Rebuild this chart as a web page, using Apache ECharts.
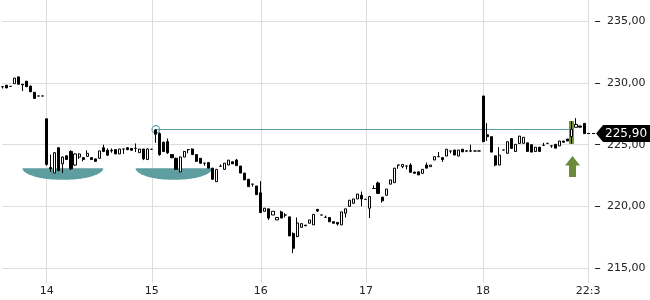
<!DOCTYPE html>
<html>
<head>
<meta charset="utf-8">
<script src="https://cdn.jsdelivr.net/npm/echarts@6/dist/echarts.min.js"></script>
<style>
  html, body { margin: 0; padding: 0; background: #fff; }
  #chart { width: 650px; height: 300px; }
</style>
</head>
<body>
<div id="chart"></div>
<script>
// Candles: [open, close, low, high]
const day13 = [
  [229.70, 229.70, 229.55, 229.72], [229.82, 229.60, 229.60, 229.82], [229.73, 229.73, 229.73, 229.73],
  [229.95, 230.40, 229.95, 230.40], [230.50, 229.90, 229.90, 230.50], [229.90, 229.85, 229.35, 229.90],
  [230.15, 229.70, 229.70, 230.15], [229.75, 229.30, 229.25, 229.80], [229.25, 228.75, 228.75, 229.25],
  [228.95, 228.95, 228.95, 228.95], [228.95, 228.95, 228.95, 228.95]
];
const day14 = [
  [227.10, 223.40, 223.30, 227.10], [223.15, 223.05, 222.80, 224.20], [222.70, 224.35, 222.70, 224.40],
  [224.75, 222.90, 222.85, 224.80], [223.45, 224.00, 222.70, 224.05], [224.10, 223.80, 223.75, 224.15],
  [224.45, 223.05, 222.95, 224.55], [223.35, 224.25, 223.30, 224.30], [224.00, 224.25, 223.85, 224.30],
  [223.95, 223.80, 223.65, 224.00], [224.05, 224.30, 224.05, 224.55], [223.95, 223.80, 223.80, 223.95],
  [223.85, 223.65, 223.65, 223.85], [223.90, 224.50, 223.85, 224.50], [224.75, 224.45, 224.40, 225.00],
  [224.55, 224.15, 224.10, 224.70], [224.55, 224.50, 224.35, 224.70], [224.60, 224.25, 224.25, 224.60],
  [224.25, 224.65, 224.25, 224.65], [224.65, 224.65, 224.25, 224.65], [224.75, 224.60, 224.55, 224.80],
  [224.70, 224.55, 224.55, 224.70], [224.70, 224.70, 224.40, 225.10], [224.35, 224.65, 224.35, 224.65],
  [224.65, 223.85, 223.75, 224.65], [223.80, 224.65, 223.75, 224.70]
];
const day15 = [
  [224.63, 224.63, 224.63, 224.63], [226.20, 225.85, 225.15, 226.25], [225.90, 224.20, 224.10, 226.00],
  [225.20, 224.45, 224.40, 225.25], [225.25, 224.35, 224.25, 225.50], [224.20, 223.95, 223.90, 224.20],
  [223.90, 223.00, 222.95, 223.95], [222.80, 224.00, 222.75, 224.05], [224.00, 224.45, 224.00, 224.50],
  [224.60, 224.60, 224.30, 224.65], [224.65, 224.20, 224.20, 224.70], [224.20, 223.65, 223.60, 224.20],
  [223.90, 223.50, 223.45, 223.90], [223.50, 223.50, 223.30, 223.50], [223.55, 223.10, 223.10, 223.55],
  [223.10, 222.20, 222.15, 223.10], [222.00, 223.00, 222.00, 223.00], [223.25, 223.25, 223.25, 223.40],
  [223.00, 223.50, 223.00, 223.50], [223.35, 223.75, 223.35, 223.75], [223.62, 223.45, 223.45, 223.62],
  [223.75, 223.30, 223.30, 223.85], [223.27, 222.70, 222.70, 223.27], [222.70, 222.15, 222.15, 222.70],
  [222.20, 221.60, 221.60, 222.20], [221.80, 221.80, 221.60, 221.80], [221.65, 220.95, 220.95, 221.65]
];
const day16 = [
  [221.10, 219.50, 219.45, 222.05], [219.60, 219.85, 219.60, 219.85], [219.80, 219.05, 218.90, 219.80],
  [219.30, 219.60, 219.30, 219.60], [218.90, 219.10, 218.90, 219.10], [219.55, 219.05, 219.05, 219.65],
  [219.30, 219.30, 219.10, 219.45], [219.15, 217.60, 217.60, 219.15], [217.80, 216.60, 216.20, 217.90],
  [217.55, 218.65, 217.50, 219.10], [218.30, 218.60, 218.30, 218.60], [218.48, 218.42, 218.42, 218.48],
  [218.63, 218.90, 218.63, 218.90], [218.50, 219.35, 218.50, 219.35], [219.76, 219.62, 219.55, 219.76],
  [219.30, 219.30, 219.30, 219.30], [219.11, 219.11, 219.11, 219.25], [219.10, 218.75, 218.75, 219.10],
  [218.76, 218.63, 218.63, 218.76], [218.70, 218.57, 218.45, 218.70], [218.50, 219.55, 218.50, 219.55],
  [219.45, 219.80, 219.10, 219.80], [220.00, 220.50, 220.00, 220.50], [220.25, 220.60, 220.25, 220.60],
  [220.60, 221.00, 220.60, 221.00], [220.90, 220.60, 220.00, 221.20]
];
const day17 = [
  [220.57, 220.57, 220.57, 220.57], [219.85, 220.80, 219.05, 220.85], [221.45, 221.45, 221.45, 221.70],
  [221.90, 221.05, 221.05, 222.00], [220.75, 220.45, 220.30, 220.75], [220.90, 221.40, 220.90, 221.40],
  [221.80, 222.15, 221.80, 222.15], [221.92, 223.10, 221.92, 223.10], [223.35, 223.35, 223.05, 223.35],
  [223.22, 223.40, 223.10, 223.40], [223.27, 223.27, 223.00, 223.27], [223.35, 222.76, 222.76, 223.50],
  [222.78, 222.68, 222.68, 222.80], [222.80, 222.55, 222.55, 222.80], [222.68, 223.00, 222.68, 223.00],
  [223.35, 223.10, 223.10, 223.55], [223.22, 223.35, 223.22, 223.35], [223.76, 224.03, 223.76, 224.03],
  [224.03, 224.03, 224.03, 224.41], [223.95, 223.80, 223.60, 223.95], [224.08, 224.63, 224.08, 224.63],
  [224.49, 224.49, 224.30, 224.49], [224.57, 224.16, 224.16, 224.57], [224.08, 224.57, 224.08, 224.57],
  [224.63, 224.42, 224.42, 224.63], [224.50, 224.48, 224.40, 224.55], [224.50, 224.48, 224.40, 225.00],
  [224.49, 224.49, 224.49, 224.49], [224.49, 224.49, 224.49, 224.49]
];
const day18 = [
  [228.95, 225.25, 225.20, 228.95], [225.80, 225.65, 225.30, 226.75], [225.65, 224.40, 224.40, 225.65],
  [224.10, 223.35, 223.25, 224.10], [223.35, 224.15, 223.35, 224.80], [224.57, 224.57, 224.57, 224.57],
  [224.30, 225.24, 224.30, 225.24], [225.50, 224.70, 224.70, 225.50], [224.45, 225.03, 224.45, 225.03],
  [225.10, 225.70, 225.10, 225.70], [225.11, 225.60, 225.11, 225.60], [225.15, 224.45, 224.45, 225.15],
  [225.00, 224.40, 224.40, 225.00], [224.45, 224.80, 224.45, 224.80], [224.80, 224.45, 224.45, 224.80],
  [224.95, 224.95, 224.95, 225.15], [225.11, 225.11, 225.11, 225.11], [224.90, 224.90, 224.75, 224.95],
  [225.03, 224.72, 224.72, 225.03], [224.90, 225.30, 224.90, 225.30], [225.30, 225.20, 225.15, 225.30],
  [225.46, 225.30, 225.30, 225.46], [225.65, 226.25, 225.10, 226.90], [226.41, 226.65, 226.41, 227.15],
  [226.52, 226.42, 226.42, 226.52], [226.73, 225.90, 225.90, 226.73]
];

// Tick labels: label of the first candle of each day, plus the closing time label
const dayLabels = ['', '14', '15', '16', '17', '18'];
const endLabel = '22:30';

// Y axis range / ticks
const yMin = 210, yMax = 240, yStep = 5;

// Annotations (candle indices and price levels)
const saucers = [[5, 25, 223.1, 222.15], [33, 52, 223.1, 222.15]]; // [fromIdx, toIdx, topPrice, bottomPrice]
const resistance = [38, 141, 226.25];   // [fromIdx, toIdx, price]
const breakout = [141, 225.05, 226.95]; // [idx, lowPrice, highPrice]
const arrow = [141, 224.08, 222.38];    // [idx, tipPrice, tailPrice]

// ---- build ----
const days = [day13, day14, day15, day16, day17, day18];
const categories = [];
const candles = [];
days.forEach((d, k) => d.forEach((c, i) => {
  categories.push(i === 0 ? dayLabels[k] : '');
  candles.push(c);
}));
categories.push(endLabel);
candles.push('-');
const lastIdx = candles.length - 2;
const lastClose = candles[lastIdx][1];

const teal = '#5f9ea0';
const olive = '#6b8a3a';
const gridColor = '#dddddd';
const textColor = '#222222';
const font = 'DejaVu Sans';
const fmt = v => v.toFixed(2).replace('.', ',');
const isLabel = (i, v) => v !== '';
const crisp = v => Math.round(v - 0.5) + 0.5;

const chart = echarts.init(document.getElementById('chart'), null, { renderer: 'canvas' });
chart.setOption({
  animation: false,
  backgroundColor: '#ffffff',
  textStyle: { fontFamily: font },
  grid: [
    { left: 2.3, right: 61.9, top: -40.3, height: 370, containLabel: false, outerBoundsMode: 'none' },
    { left: 2.3, right: 61.9, top: 0, height: 283, containLabel: false, outerBoundsMode: 'none' }
  ],
  xAxis: [
    { type: 'category', gridIndex: 0, data: categories, boundaryGap: false, show: false },
    {
      type: 'category', gridIndex: 1, data: categories, boundaryGap: false,
      axisLine: { show: false }, axisTick: { show: false },
      splitLine: { show: true, interval: isLabel, lineStyle: { color: gridColor, width: 1 } },
      axisLabel: { interval: isLabel, margin: 3, fontFamily: font, fontSize: 11, color: textColor,
                   width: 28, overflow: 'truncate', ellipsis: '' }
    },
    {
      type: 'category', gridIndex: 1, data: categories, boundaryGap: false, offset: 13,
      axisLine: { show: false },
      axisTick: { show: true, interval: isLabel, length: 4, lineStyle: { color: textColor } },
      axisLabel: { show: false }, splitLine: { show: false }
    }
  ],
  yAxis: [
    {
      type: 'value', gridIndex: 0, position: 'right', min: yMin, max: yMax, interval: yStep, offset: 7,
      axisLine: { show: false },
      axisTick: { show: true, length: 5, lineStyle: { color: textColor } },
      axisLabel: { margin: 12, formatter: fmt, fontFamily: font, fontSize: 11, color: textColor },
      splitLine: { show: true, lineStyle: { color: gridColor, width: 1 } }
    },
    { type: 'value', gridIndex: 1, show: false }
  ],
  series: [
    {
      type: 'custom', name: 'saucers', xAxisIndex: 0, yAxisIndex: 0, z: 1, clip: false,
      data: saucers, encode: { x: [0, 1], y: [2, 3] },
      renderItem(params, api) {
        const a = api.coord([api.value(0), api.value(2)]);
        const b = api.coord([api.value(1), api.value(2)]);
        const bottom = api.coord([api.value(0), api.value(3)])[1];
        const cx = (a[0] + b[0]) / 2, rx = (b[0] - a[0]) / 2, ry = bottom - a[1];
        const pts = [];
        for (let k = 0; k <= 48; k++) {
          const t = Math.PI * k / 48;
          pts.push([cx + rx * Math.cos(t), a[1] + ry * Math.sin(t)]);
        }
        return { type: 'polygon', shape: { points: pts }, style: { fill: teal } };
      }
    },
    {
      type: 'custom', name: 'breakout', xAxisIndex: 0, yAxisIndex: 0, z: 1, clip: false,
      data: [breakout], encode: { x: 0, y: [1, 2] },
      renderItem(params, api) {
        const lo = api.coord([api.value(0), api.value(1)]);
        const hi = api.coord([api.value(0), api.value(2)]);
        const x0 = Math.round(lo[0] - 2.5);
        return { type: 'rect', shape: { x: x0, y: Math.round(hi[1]), width: 5, height: Math.round(lo[1] - hi[1]) },
                 style: { fill: '#76963f' } };
      }
    },
    {
      type: 'custom', name: 'resistance', xAxisIndex: 0, yAxisIndex: 0, z: 1, clip: false,
      data: [resistance], encode: { x: [0, 1], y: 2 },
      renderItem(params, api) {
        const a = api.coord([api.value(0), api.value(2)]);
        const b = api.coord([api.value(1), api.value(2)]);
        const y = crisp(a[1]);
        return { type: 'group', children: [
          { type: 'line', shape: { x1: a[0], y1: y, x2: b[0], y2: y }, style: { stroke: teal, lineWidth: 1 } },
          { type: 'circle', shape: { cx: a[0], cy: y, r: 3.8 }, style: { fill: 'rgba(255,255,255,0)', stroke: teal, lineWidth: 1.2 }, z2: 10 }
        ] };
      }
    },
    {
      type: 'candlestick', name: 'price', xAxisIndex: 0, yAxisIndex: 0, z: 2, clip: false,
      data: candles, barWidth: 2.6,
      itemStyle: { color: '#ffffff', color0: '#000000', borderColor: '#000000', borderColor0: '#000000', borderWidth: 1 }
    },
    {
      type: 'custom', name: 'arrow', xAxisIndex: 0, yAxisIndex: 0, z: 3, clip: false,
      data: [arrow], encode: { x: 0, y: [1, 2] },
      renderItem(params, api) {
        const tip = api.coord([api.value(0), api.value(1)]);
        const tail = api.coord([api.value(0), api.value(2)]);
        const x = Math.round(tip[0]) + 0.5, y0 = tip[1], y1 = tail[1];
        const head = y0 + (y1 - y0) * 0.45;
        return { type: 'polygon', shape: { points: [
          [x, y0], [x + 7.5, head], [x + 3.5, head], [x + 3.5, y1], [x - 3.5, y1], [x - 3.5, head], [x - 7.5, head]
        ] }, style: { fill: olive } };
      }
    },
    {
      type: 'custom', name: 'last', xAxisIndex: 0, yAxisIndex: 0, z: 5, clip: false,
      data: [[lastIdx, lastClose]], encode: { x: 0, y: 1 },
      renderItem(params, api) {
        const p = api.coord([api.value(0), api.value(1)]);
        const x = p[0], y = crisp(p[1]);
        return { type: 'group', children: [
          { type: 'line', shape: { x1: x + 3, y1: y, x2: x + 12, y2: y },
            style: { stroke: '#000', lineWidth: 1, lineDash: [3, 2] } },
          { type: 'polygon', shape: { points: [[x + 12, y], [x + 19, y - 8.5], [x + 70, y - 8.5], [x + 70, y + 8.5], [x + 19, y + 8.5]] },
            style: { fill: '#000' } },
          { type: 'text', x: x + 42, y: y, style: { text: fmt(api.value(1)), fill: '#fff', font: '12px "DejaVu Sans"',
            align: 'center', verticalAlign: 'middle' } }
        ] };
      }
    }
  ]
});
</script>
</body>
</html>
